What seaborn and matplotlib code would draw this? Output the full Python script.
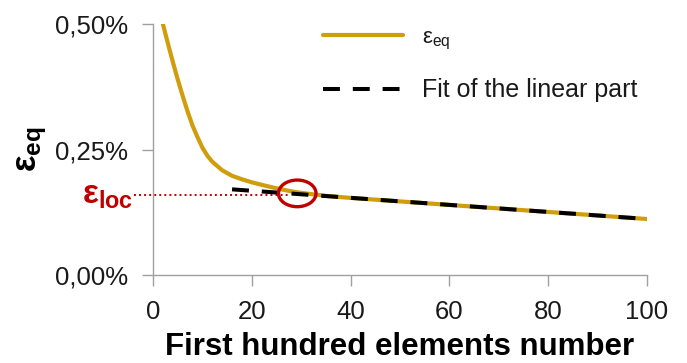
import matplotlib
matplotlib.use("Agg")
import matplotlib.pyplot as plt
import numpy as np
import pandas as pd
import seaborn as sns
from matplotlib.patches import Ellipse
from matplotlib.ticker import FuncFormatter, FixedLocator

# ---------------- data ----------------
elements = [2, 3, 4, 5, 6, 7, 8, 9, 10, 11, 12, 14, 16, 18, 20, 22, 25, 28,
            30, 35, 40, 50, 60, 70, 80, 90, 100]
eps_eq = [0.500, 0.462, 0.425, 0.390, 0.357, 0.326, 0.298, 0.275, 0.254,
          0.238, 0.226, 0.209, 0.198, 0.191, 0.185, 0.180, 0.173, 0.167,
          0.164, 0.158, 0.154, 0.147, 0.140, 0.133, 0.126, 0.119, 0.112]
fit_elements = [16, 100]
fit_values = [0.171, 0.112]
eps_loc = 0.160            # level of the localisation strain (%)
loc_element = 29.2         # element where the curve meets the fit
loc_circle_y = 0.163
x_ticks = [0, 20, 40, 60, 80, 100]
y_ticks = [0.0, 0.25, 0.50]

GOLD = "#D09D0C"
RED = "#C00000"
GRAY = "#A0A0A0"

# ---------------- style ----------------
sns.set_theme(style="white")
plt.rcParams["font.family"] = ["Liberation Sans", "DejaVu Sans"]
plt.rcParams["mathtext.fontset"] = "custom"
plt.rcParams["mathtext.rm"] = "Liberation Sans"
plt.rcParams["mathtext.bf"] = "Liberation Sans:bold"
plt.rcParams["mathtext.it"] = "Liberation Sans:italic"

fig = plt.figure(figsize=(6.87, 3.63), dpi=100)
ax = fig.add_axes([0.2227, 0.2416, 0.7191, 0.6923])

df = pd.DataFrame({"element": elements, "eps": eps_eq})
fit_df = pd.DataFrame({"element": fit_elements, "eps": fit_values})

sns.lineplot(data=df, x="element", y="eps", ax=ax, color=GOLD, lw=3.0,
             label=r"$\mathrm{ε_{eq}}$")
sns.lineplot(data=fit_df, x="element", y="eps", ax=ax, color="black", lw=2.9,
             linestyle=(0, (4.2, 3.2)), label="Fit of the linear part")

# localisation marker
ax.plot([-3.8, loc_element - 1.5], [eps_loc, eps_loc], color=RED, lw=1.4,
        linestyle=(0, (1, 1.6)), clip_on=False, zorder=1)
ax.add_patch(Ellipse((loc_element, loc_circle_y), 7.6, 0.053, fill=False,
                     edgecolor=RED, lw=2.4, zorder=5))
ax.text(-4.1, eps_loc - 0.018, r"$\mathbf{ε_{loc}}$", color=RED, fontsize=24,
        ha="right", va="baseline", clip_on=False)

# axes
ax.set_xlim(0, 100)
ax.set_ylim(0, 0.5)
ax.xaxis.set_major_locator(FixedLocator(x_ticks))
ax.yaxis.set_major_locator(FixedLocator(y_ticks))
ax.yaxis.set_major_formatter(FuncFormatter(lambda v, p: f"{v:.2f}%".replace(".", ",")))
sns.despine(ax=ax)
for s in ("left", "bottom"):
    ax.spines[s].set_color(GRAY)
    ax.spines[s].set_linewidth(1.0)
ax.tick_params(axis="both", which="major", bottom=True, left=True, direction="out",
               length=8, width=1, color=GRAY, labelsize=18.5, labelcolor="#1a1a1a")
ax.tick_params(axis="x", pad=10)
ax.tick_params(axis="y", pad=10)

ax.set_xlabel("First hundred elements number", fontsize=22.5, fontweight="bold",
              color="black")
ax.xaxis.set_label_coords(0.5, -0.225)
ax.set_ylabel(r"$\mathbf{ε_{eq}}$", fontsize=25, color="black")
ax.yaxis.set_label_coords(-0.21, 0.5)

leg = ax.legend(loc="upper left", bbox_to_anchor=(323 / 687, 1 - 26 / 363),
                bbox_transform=fig.transFigure, frameon=False, fontsize=18,
                handlelength=3.2, handletextpad=0.75, labelspacing=1.05,
                borderpad=0, borderaxespad=0)
leg.get_texts()[0].set_fontsize(16)
for t in leg.get_texts():
    t.set_color("#1a1a1a")

fig.savefig("out.png", dpi=100)
